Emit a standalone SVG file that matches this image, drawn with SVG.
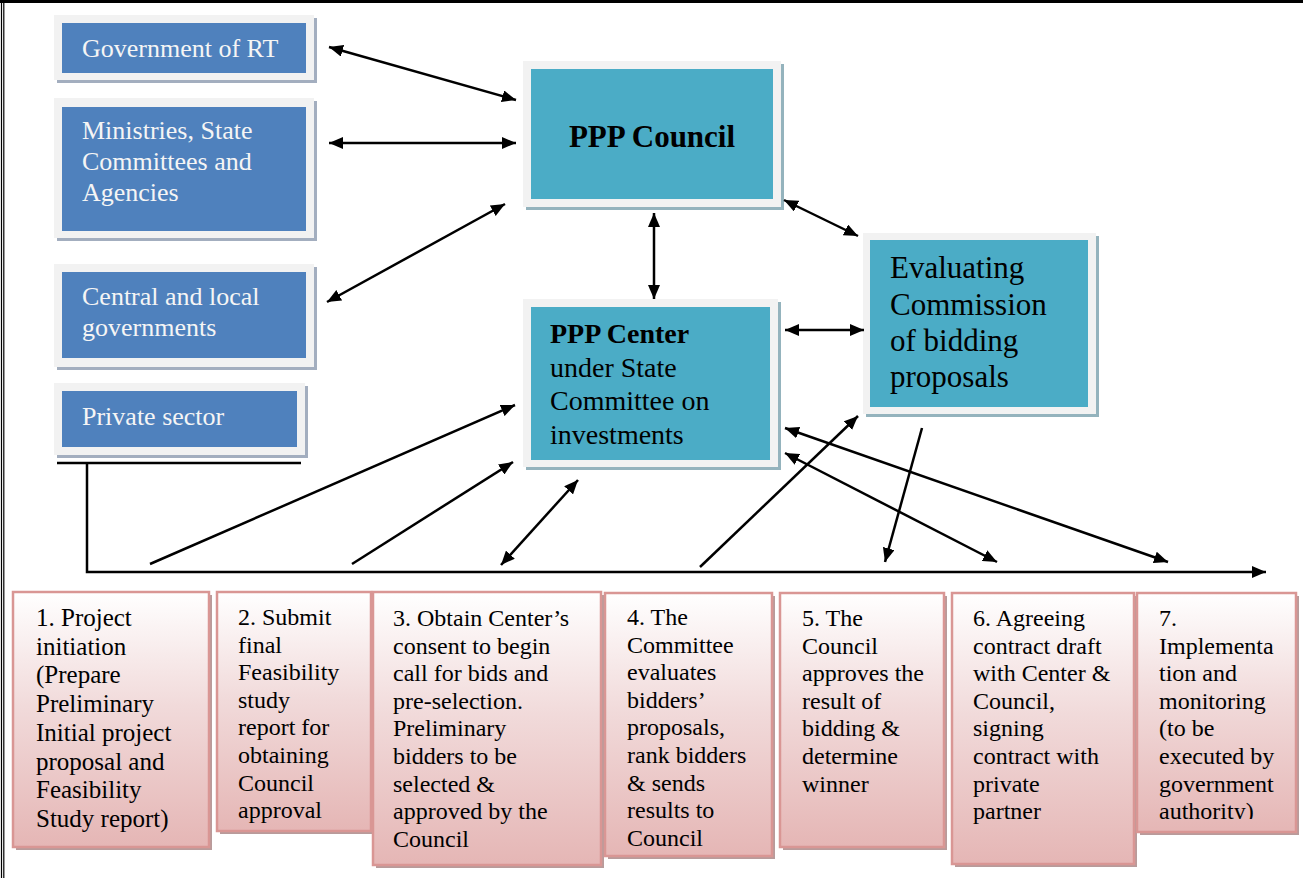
<svg xmlns="http://www.w3.org/2000/svg" width="1303" height="878" viewBox="0 0 1303 878">
<style>
.bg{fill:#ffffff}
.bshadow{fill:#a3aebf}
.bouter{fill:#f2f2f2}
.blue{fill:#4f81bd}
.tshadow{fill:#94b3bd}
.teal{fill:#4bacc6}
.pshadow{fill:#b89b9b}
.pink{fill:url(#pg);stroke:#d99694;stroke-width:2.5}
text{font-family:'Liberation Serif','Tinos','Times New Roman','DejaVu Serif',serif}
.wt{font-size:26px;fill:#f5f5f5}
.dt{fill:#000}
.st{font-size:24px;fill:#000}
.conn line,.conn path{stroke:#000;stroke-width:2.5;fill:none}
</style>
<defs>
<linearGradient id="pg" x1="0" y1="0" x2="0" y2="1">
<stop offset="0" stop-color="#ffffff"/>
<stop offset="0.45" stop-color="#f1dada"/>
<stop offset="1" stop-color="#e5b6b5"/>
</linearGradient>
<marker id="ah" viewBox="0 0 14 12" refX="14" refY="6" markerWidth="14" markerHeight="12" markerUnits="userSpaceOnUse" orient="auto-start-reverse">
<path d="M0,0 L14,6 L0,12 z" fill="#000"/>
</marker>
<clipPath id="c7"><rect x="1137" y="593" width="160" height="226"/></clipPath>
</defs>
<rect class="bg" x="0" y="0" width="1303" height="878"/>
<g id="frame">
<line x1="0" y1="1.5" x2="1303" y2="1.5" stroke="#000" stroke-width="3"/>
<line x1="1.5" y1="0" x2="1.5" y2="878" stroke="#000" stroke-width="1.2"/>
<line x1="3.8" y1="0" x2="3.8" y2="878" stroke="#000" stroke-width="1.2"/>
</g>

<g id="gov-rt">
<rect class="bshadow" x="57" y="18" width="260" height="65"/>
<rect class="bouter" x="54" y="15" width="260" height="65"/>
<rect class="blue" x="62" y="23" width="244" height="50"/>
<text class="wt" font-family="Liberation Serif, serif" x="82" y="57">Government of RT</text>
</g>
<g id="ministries">
<rect class="bshadow" x="57" y="101" width="260" height="140"/>
<rect class="bouter" x="54" y="98" width="260" height="140"/>
<rect class="blue" x="62" y="107" width="244" height="124"/>
<text class="wt" x="82" y="139">Ministries, State<tspan x="82" y="170">Committees and</tspan><tspan x="82" y="201">Agencies</tspan></text>
</g>
<g id="central-local">
<rect class="bshadow" x="57" y="267" width="260" height="103"/>
<rect class="bouter" x="54" y="264" width="260" height="103"/>
<rect class="blue" x="62" y="272" width="244" height="86"/>
<text class="wt" x="82" y="305">Central and local<tspan x="82" y="336">governments</tspan></text>
</g>
<g id="private-sector">
<rect class="bshadow" x="57" y="386" width="251" height="72"/>
<rect class="bouter" x="54" y="383" width="251" height="72"/>
<rect class="blue" x="62" y="391" width="235" height="56"/>
<text class="wt" x="82" y="425">Private sector</text>
</g>

<g id="ppp-council">
<rect class="tshadow" x="526" y="64" width="258" height="146"/>
<rect class="bouter" x="523" y="61" width="258" height="146"/>
<rect class="teal" x="531" y="69" width="242" height="130"/>
<text class="dt" x="652" y="147" font-size="31" font-weight="bold" text-anchor="middle">PPP Council</text>
</g>
<g id="ppp-center">
<rect class="tshadow" x="526" y="302" width="255" height="168"/>
<rect class="bouter" x="523" y="299" width="255" height="168"/>
<rect class="teal" x="531" y="307" width="239" height="153"/>
<text class="dt" x="550" y="343" font-size="28"><tspan font-weight="bold">PPP Center</tspan><tspan x="550" y="377">under State</tspan><tspan x="550" y="410">Committee on</tspan><tspan x="550" y="444">investments</tspan></text>
</g>
<g id="evaluating-commission">
<rect class="tshadow" x="866" y="236" width="233" height="181"/>
<rect class="bouter" x="863" y="233" width="233" height="181"/>
<rect class="teal" x="870" y="240" width="218" height="167"/>
<text class="dt" x="890" y="278" font-size="31">Evaluating<tspan x="890" y="315">Commission</tspan><tspan x="890" y="351">of bidding</tspan><tspan x="890" y="387">proposals</tspan></text>
</g>

<g id="step1">
<rect class="pshadow" x="16" y="595" width="196" height="255"/>
<rect class="pink" x="13" y="592" width="196" height="255"/>
<text class="dt" x="36" y="626" font-size="25">1. Project<tspan x="36" y="654.7">initiation</tspan><tspan x="36" y="683.4">(Prepare</tspan><tspan x="36" y="712.1">Preliminary</tspan><tspan x="36" y="740.8">Initial project</tspan><tspan x="36" y="769.5">proposal and</tspan><tspan x="36" y="798.2">Feasibility</tspan><tspan x="36" y="826.9">Study report)</tspan></text>
</g>
<g id="step2">
<rect class="pshadow" x="220" y="595" width="154" height="239"/>
<rect class="pink" x="217" y="592" width="154" height="239"/>
<text class="st" x="238" y="625">2. Submit<tspan x="238" y="652.6">final</tspan><tspan x="238" y="680.2">Feasibility</tspan><tspan x="238" y="707.8">study</tspan><tspan x="238" y="735.4">report for</tspan><tspan x="238" y="763">obtaining</tspan><tspan x="238" y="790.6">Council</tspan><tspan x="238" y="818.2">approval</tspan></text>
</g>
<g id="step3">
<rect class="pshadow" x="376" y="595" width="228" height="273"/>
<rect class="pink" x="373" y="592" width="228" height="273"/>
<text class="st" x="393" y="626">3. Obtain Center’s<tspan x="393" y="653.6">consent to begin</tspan><tspan x="393" y="681.2">call for bids and</tspan><tspan x="393" y="708.8">pre-selection.</tspan><tspan x="393" y="736.4">Preliminary</tspan><tspan x="393" y="764">bidders to be</tspan><tspan x="393" y="791.6">selected &amp;</tspan><tspan x="393" y="819.2">approved by the</tspan><tspan x="393" y="846.8">Council</tspan></text>
</g>
<g id="step4">
<rect class="pshadow" x="608" y="596" width="167" height="263"/>
<rect class="pink" x="605" y="593" width="167" height="263"/>
<text class="st" x="627" y="625">4. The<tspan x="627" y="652.6">Committee</tspan><tspan x="627" y="680.2">evaluates</tspan><tspan x="627" y="707.8">bidders’</tspan><tspan x="627" y="735.4">proposals,</tspan><tspan x="627" y="763">rank bidders</tspan><tspan x="627" y="790.6">&amp; sends</tspan><tspan x="627" y="818.2">results to</tspan><tspan x="627" y="845.8">Council</tspan></text>
</g>
<g id="step5">
<rect class="pshadow" x="783" y="596" width="164" height="254"/>
<rect class="pink" x="780" y="593" width="164" height="254"/>
<text class="st" x="802" y="626">5. The<tspan x="802" y="653.6">Council</tspan><tspan x="802" y="681.2">approves the</tspan><tspan x="802" y="708.8">result of</tspan><tspan x="802" y="736.4">bidding &amp;</tspan><tspan x="802" y="764">determine</tspan><tspan x="802" y="791.6">winner</tspan></text>
</g>
<g id="step6">
<rect class="pshadow" x="955" y="596" width="182" height="271"/>
<rect class="pink" x="952" y="593" width="182" height="271"/>
<text class="st" x="973" y="626">6. Agreeing<tspan x="973" y="653.6">contract draft</tspan><tspan x="973" y="681.2">with Center &amp;</tspan><tspan x="973" y="708.8">Council,</tspan><tspan x="973" y="736.4">signing</tspan><tspan x="973" y="764">contract with</tspan><tspan x="973" y="791.6">private</tspan><tspan x="973" y="819.2">partner</tspan></text>
</g>
<g id="step7">
<rect class="pshadow" x="1140" y="596" width="159" height="239"/>
<rect class="pink" x="1137" y="593" width="159" height="239"/>
<text class="st" x="1159" y="626" clip-path="url(#c7)">7.<tspan x="1159" y="653.6">Implementa</tspan><tspan x="1159" y="681.2">tion and</tspan><tspan x="1159" y="708.8">monitoring</tspan><tspan x="1159" y="736.4">(to be</tspan><tspan x="1159" y="764">executed by</tspan><tspan x="1159" y="791.6">government</tspan><tspan x="1159" y="819.2">authority)</tspan></text>
</g>

<g id="connectors" class="conn">
<line x1="57" y1="463" x2="301" y2="463"/>
<path d="M87,463 V572 H1266" marker-end="url(#ah)" stroke-width="3"/>
<line x1="329" y1="47" x2="516" y2="100" marker-start="url(#ah)" marker-end="url(#ah)"/>
<line x1="329" y1="143" x2="516" y2="143" marker-start="url(#ah)" marker-end="url(#ah)"/>
<line x1="327" y1="302" x2="505" y2="204" marker-start="url(#ah)" marker-end="url(#ah)"/>
<line x1="654" y1="213" x2="654" y2="299" marker-start="url(#ah)" marker-end="url(#ah)"/>
<line x1="784" y1="200" x2="858" y2="236" marker-start="url(#ah)" marker-end="url(#ah)"/>
<line x1="785" y1="330" x2="864" y2="330" marker-start="url(#ah)" marker-end="url(#ah)"/>
<line x1="150" y1="564" x2="515" y2="405" marker-end="url(#ah)"/>
<line x1="352" y1="564" x2="513" y2="462" marker-end="url(#ah)"/>
<line x1="501" y1="565" x2="578" y2="480" marker-start="url(#ah)" marker-end="url(#ah)"/>
<line x1="700" y1="567" x2="858" y2="416" marker-end="url(#ah)"/>
<line x1="922" y1="428" x2="885" y2="562" marker-end="url(#ah)"/>
<line x1="785" y1="453" x2="997" y2="562" marker-start="url(#ah)" marker-end="url(#ah)"/>
<line x1="785" y1="428" x2="1168" y2="562" marker-start="url(#ah)" marker-end="url(#ah)"/>
</g>
</svg>
